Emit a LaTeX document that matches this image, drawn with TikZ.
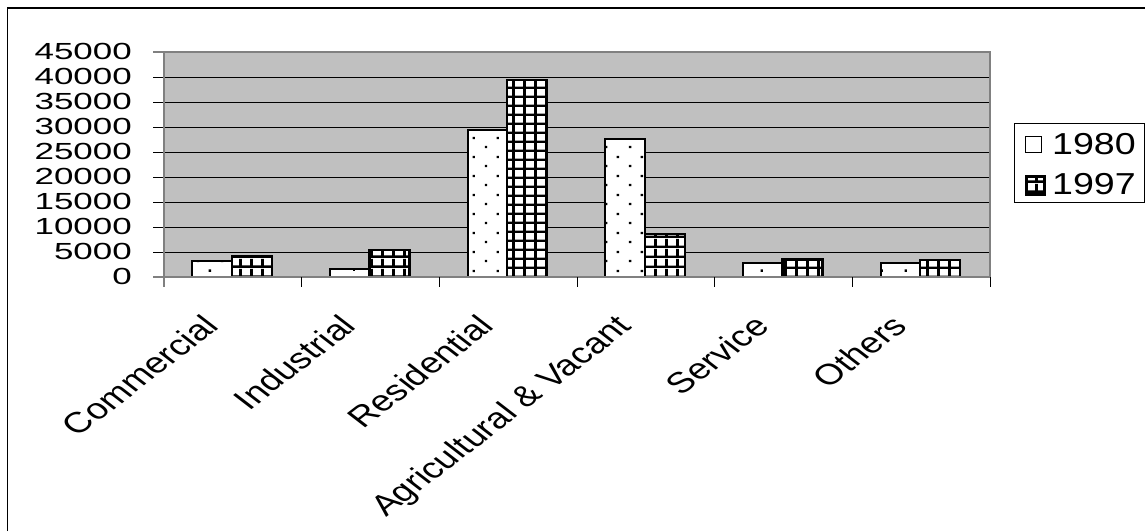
\documentclass[tikz,border=0pt]{standalone}
\usepackage{fontspec}
\setmainfont{Liberation Sans}
\newfontfamily\ylabfont[FakeStretch=1.5]{Liberation Sans}
\newfontfamily\legfont[FakeStretch=1.24]{Liberation Sans}
\usetikzlibrary{patterns.meta}
\definecolor{plotgray}{HTML}{C0C0C0}
\definecolor{axisgray}{HTML}{808080}
\tikzdeclarepattern{
  name=sparsedots,
  type=uncolored,
  bounding box={(0pt,0pt) and (24pt,19pt)},
  tile size={(24pt,19pt)},
  code={
    \fill (5pt,4pt) rectangle (7.4pt,6.4pt);
    \fill (17pt,13.5pt) rectangle (19.4pt,15.9pt);
  }
}
\tikzdeclarepattern{
  name=gridpat,
  type=uncolored,
  bounding box={(0pt,0pt) and (10.9pt,9.4pt)},
  tile size={(10.9pt,9.4pt)},
  code={
    \fill (0pt,0pt) rectangle (2.9pt,9.4pt);
    \fill (0pt,0pt) rectangle (10.9pt,2.6pt);
  }
}
\begin{document}
\begin{tikzpicture}[x=1pt,y=-1pt,
  bareighty/.style={fill=white, postaction={pattern=sparsedots, pattern color=black}, draw=black, line width=2pt},
  barninety/.style={fill=white, postaction={pattern=gridpat, pattern color=black}, draw=black, line width=2.6pt},
  gridline/.style={draw=black, line width=1pt},
  axisline/.style={draw=axisgray, line width=2pt},
  tickline/.style={draw=black, line width=1pt},
  ylab/.style={anchor=east, inner sep=0pt, font=\ylabfont\fontsize{23.3}{24}\selectfont},
  catlab/.style={anchor=north east, inner sep=0pt, outer sep=0pt, transform shape, font=\fontsize{29}{31}\selectfont},
  leglab/.style={anchor=west, inner sep=0pt, font=\legfont\fontsize{30.3}{32}\selectfont}]
\useasboundingbox (0,0) rectangle (1145,531);
\fill[white] (0,0) rectangle (1145,531);
% outer frame (left and top only)
\draw[line width=1.7pt] (7.5,531) -- (7.5,8) -- (1145,8);
% plot area
\fill[plotgray] (164,52) rectangle (990,277);
\foreach \k in {1,...,8} {
  \draw[gridline] (153,{52+25*\k}) -- (990,{52+25*\k});
}
% bars
\foreach \i/\a/\b in {0/32/41, 1/17/54, 2/294/394, 3/276/86, 4/28/35, 5/28/34} {
  \pgfmathsetmacro\c{164+(\i+0.5)*137.67}
  \draw[bareighty] ({\c-40.5},277) rectangle ({\c-1},{277-\a/2});
  \draw[barninety] ({\c-1},277) rectangle ({\c+39},{277-\b/2});
}
% axes and border
\draw[axisline] (153,52) -- (990,52) -- (990,277);
\draw[axisline] (153,277) -- (990,277);
\draw[axisline] (164,52) -- (164,287);
\foreach \i in {1,...,6} {
  \draw[tickline] ({164+\i*137.67},277) -- ({164+\i*137.67},287);
}
% y labels
\foreach \v [count=\k from 0] in {45000,40000,35000,30000,25000,20000,15000,10000,5000,0} {
  \node[ylab] (y\k) at (132,{51+25*\k}) {\v};
}
% category labels
\foreach \i/\t in {0/Commercial, 1/Industrial, 2/Residential, 3/Agricultural \& Vacant, 4/Service, 5/Others} {
  \begin{scope}[shift={({164+(\i+0.5)*137.67-32},313)}, xscale=1.3, rotate=45]
    \node[catlab] (c\i) at (0,0) {\t};
  \end{scope}
}
% legend
\draw[line width=1pt] (1014,123) rectangle (1144,202);
\draw[black, line width=1.5pt, fill=white] (1025.5,136.5) rectangle (1041.5,152.5);
\draw[barninety, line width=3pt] (1026,176) rectangle (1044,194);
\node[leglab] (l1) at (1052,144) {1980};
\node[leglab] (l2) at (1052,184.5) {1997};
\end{tikzpicture}
\end{document}
